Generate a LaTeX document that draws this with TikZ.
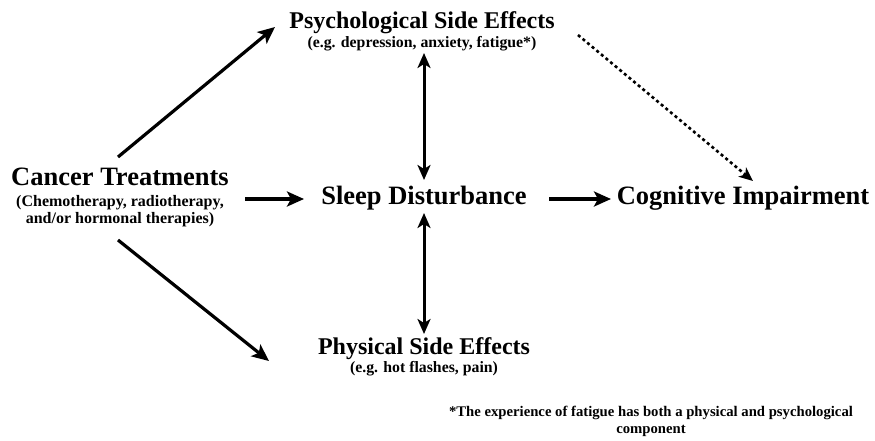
\documentclass[tikz,border=0pt]{standalone}
\usepackage{fontspec}
\setmainfont{Liberation Serif}
\usetikzlibrary{arrows.meta}
\begin{document}
\begin{tikzpicture}[x=1pt,y=-1pt,
  title/.style={font=\fontsize{24}{26}\selectfont\bfseries, inner sep=0pt, anchor=base},
  bigtitle/.style={title, font=\fontsize{26.5}{28}\selectfont\bfseries},
  sub/.style={font=\fontsize{15.8}{17}\selectfont\bfseries, inner sep=0pt, align=center, anchor=base},
  arr/.style={line width=3.2pt, -{Stealth[length=17pt,width=15pt,inset=4pt]}},
  darr/.style={line width=3pt, {Stealth[length=15pt,width=13pt,inset=4pt]}-{Stealth[length=15pt,width=13pt,inset=4pt]}},
  dotarr/.style={line width=2.6pt, dash pattern=on 3pt off 3pt, -{Stealth[length=14pt,width=12pt,inset=4pt]}}]
\useasboundingbox (0,0) rectangle (875,440);
% nodes
\node[bigtitle] (ct) at (120,185) {Cancer Treatments};
\node[sub, font=\fontsize{16}{17}\selectfont\bfseries] (ctsub1) at (120,206) {(Chemotherapy, radiotherapy,};
\node[sub, font=\fontsize{16}{17}\selectfont\bfseries] (ctsub2) at (120,223) {and/or hormonal therapies)};
\node[title] (ps) at (422,28) {Psychological Side Effects};
\node[sub] (pssub) at (422,47) {(e.g. depression, anxiety, fatigue*)};
\node[bigtitle] (sd) at (424,204) {Sleep Disturbance};
\node[bigtitle] (ci) at (743,204) {Cognitive Impairment};
\node[title] (ph) at (424,354) {Physical Side Effects};
\node[sub] (phsub) at (424,372) {(e.g. hot flashes, pain)};
\node[sub, font=\fontsize{14.7}{17}\selectfont\bfseries] (fn1) at (651,416) {*The experience of fatigue has both a physical and psychological};
\node[sub, font=\fontsize{14.7}{17}\selectfont\bfseries] (fn2) at (651,433) {component};
% connector ends
\coordinate (a1s) at (118,157); \coordinate (a1e) at (275,27);
\coordinate (a2s) at (245,199); \coordinate (a2e) at (304,199);
\coordinate (a3s) at (118,240); \coordinate (a3e) at (269,361);
\coordinate (v1s) at (424,53); \coordinate (v1e) at (424,180);
\coordinate (v2s) at (424,213); \coordinate (v2e) at (424,334);
\coordinate (a4s) at (549,199); \coordinate (a4e) at (611,199);
\coordinate (d1s) at (578,35); \coordinate (d1e) at (753,181);
\draw[arr] (a1s) -- (a1e);
\draw[arr] (a2s) -- (a2e);
\draw[arr] (a3s) -- (a3e);
\draw[darr] (v1s) -- (v1e);
\draw[darr] (v2s) -- (v2e);
\draw[arr] (a4s) -- (a4e);
\draw[dotarr] (d1s) -- (d1e);
\end{tikzpicture}
\end{document}
